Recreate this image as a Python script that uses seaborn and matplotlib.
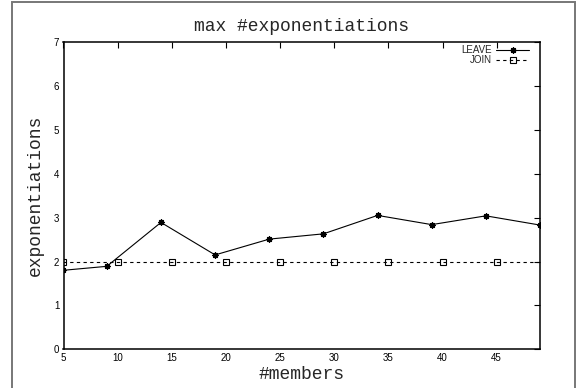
import matplotlib
matplotlib.use("Agg")
import matplotlib.pyplot as plt
import seaborn as sns
import pandas as pd
from matplotlib.patches import Rectangle

# member counts and exponentiation maxima per operation
leave_members = [5, 9, 14, 19, 24, 29, 34, 39, 44, 49]
leave_exps = [1.80, 1.89, 2.89, 2.15, 2.51, 2.63, 3.05, 2.84, 3.04, 2.83]
join_members = [5, 10, 15, 20, 25, 30, 35, 40, 45, 50]
join_exps = [2, 2, 2, 2, 2, 2, 2, 2, 2, 2]

x_ticks = [5, 10, 15, 20, 25, 30, 35, 40, 45]
y_ticks = [0, 1, 2, 3, 4, 5, 6, 7]

leave_df = pd.DataFrame({"members": leave_members, "exps": leave_exps})
join_df = pd.DataFrame({"members": join_members, "exps": join_exps})

sns.set_style("white")
plt.rcParams["font.family"] = ["Liberation Sans", "DejaVu Sans"]

fig = plt.figure(figsize=(5.85, 3.88), dpi=100)
ax = fig.add_axes([63.5 / 585, 1 - 349.3 / 388, (540 - 63.5) / 585, (349.3 - 42) / 388])

asterisk = (8, 2, 0)
sns.lineplot(data=leave_df, x="members", y="exps", ax=ax, color="black",
             linewidth=0.8, marker=asterisk, markersize=4.5, markeredgewidth=0.9,
             markeredgecolor="black", label="LEAVE")
sns.lineplot(data=join_df, x="members", y="exps", ax=ax, color="black",
             linewidth=0.8, marker="s", markersize=4.2, markeredgewidth=0.8,
             markerfacecolor="none", markeredgecolor="black",
             dashes=(3, 3), label="JOIN")

ax.set_xlim(5, 49)
ax.set_ylim(0, 7)
ax.set_xticks(x_ticks)
ax.set_yticks(y_ticks)
ax.tick_params(direction="in", length=4, width=0.8, top=True, right=True,
               labelsize=7, colors="black", pad=3)

for sp in ax.spines.values():
    sp.set_visible(True)
    sp.set_color("black")
    sp.set_linewidth(1.1)

mono = "Liberation Mono"
ax.set_title("max #exponentiations", fontfamily=mono, fontsize=13, pad=8)
ax.set_xlabel("#members", fontfamily=mono, fontsize=13, labelpad=2)
ax.set_ylabel("exponentiations", fontfamily=mono, fontsize=13, labelpad=7)

leg = ax.legend(loc="upper right", bbox_to_anchor=(1 - 9 / 476.5, 1 - 1 / 307),
                frameon=False, fontsize=7, markerfirst=False,
                handlelength=3.4, handletextpad=0.4, labelspacing=0.02,
                borderaxespad=0, borderpad=0.2)

# outer frame around the whole figure
fig.patches.append(Rectangle((12 / 585, -0.05), (575 - 12) / 585, 1.05 - 2 / 388,
                             transform=fig.transFigure, fill=False,
                             edgecolor="#777777", linewidth=1.4))

fig.savefig("out.png", dpi=100)
